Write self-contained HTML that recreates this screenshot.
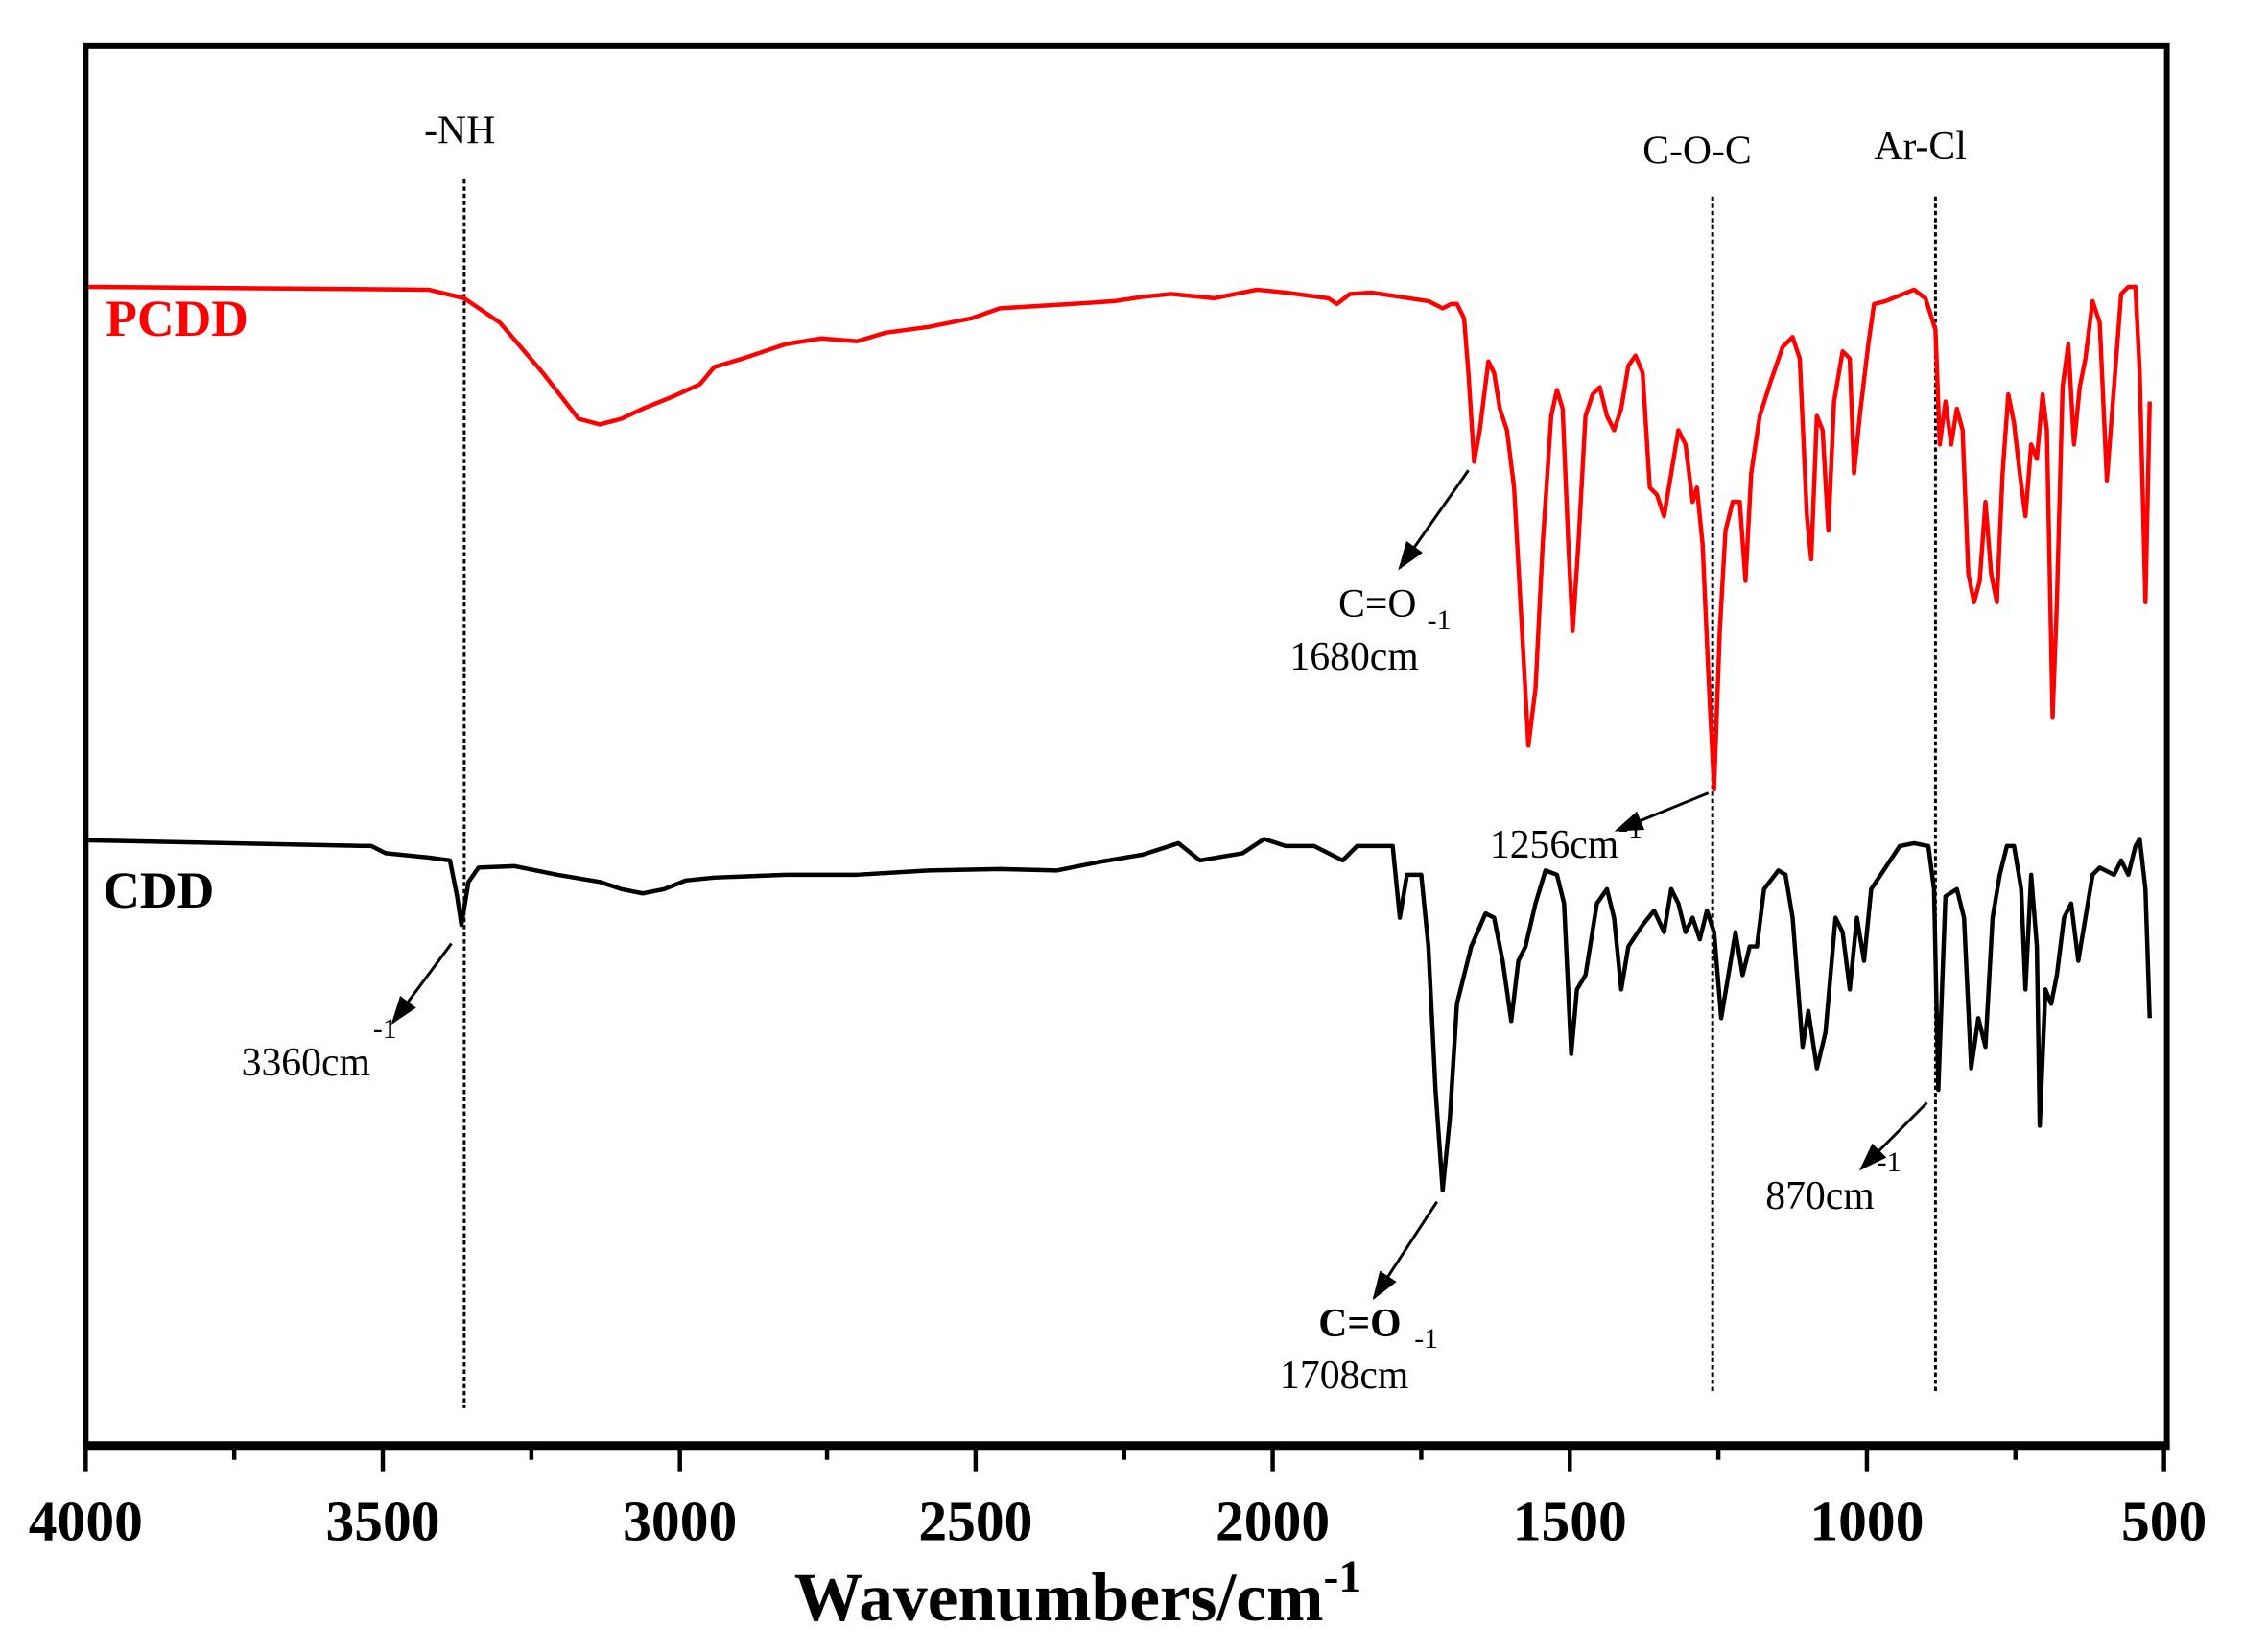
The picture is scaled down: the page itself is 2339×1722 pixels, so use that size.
<!DOCTYPE html>
<html><head><meta charset="utf-8"><style>
html,body{margin:0;padding:0;background:#fff;}
svg{display:block;}
text{font-family:"Liberation Serif",serif;}
</style></head><body>
<svg width="2339" height="1722" viewBox="0 0 1571 1152" preserveAspectRatio="none" xmlns="http://www.w3.org/2000/svg">
<defs><marker id="ah" markerWidth="20" markerHeight="14" refX="18" refY="7" orient="auto" markerUnits="userSpaceOnUse"><path d="M0,0 L20,7 L0,14 Z" fill="#000"/></marker></defs>
<rect x="60" y="32" width="1457" height="976" fill="none" stroke="#000" stroke-width="4"/>
<line x1="58" y1="1008" x2="1519" y2="1008" stroke="#000" stroke-width="6"/>
<g stroke="#000" stroke-width="3">
<line x1="60" y1="1008" x2="60" y2="1026"/><line x1="164" y1="1008" x2="164" y2="1018"/>
<line x1="268" y1="1008" x2="268" y2="1026"/><line x1="372" y1="1008" x2="372" y2="1018"/>
<line x1="476" y1="1008" x2="476" y2="1026"/><line x1="579" y1="1008" x2="579" y2="1018"/>
<line x1="683" y1="1008" x2="683" y2="1026"/><line x1="787" y1="1008" x2="787" y2="1018"/>
<line x1="891" y1="1008" x2="891" y2="1026"/><line x1="995" y1="1008" x2="995" y2="1018"/>
<line x1="1099" y1="1008" x2="1099" y2="1026"/><line x1="1203" y1="1008" x2="1203" y2="1018"/>
<line x1="1307" y1="1008" x2="1307" y2="1026"/><line x1="1411" y1="1008" x2="1411" y2="1018"/>
<line x1="1515" y1="1008" x2="1515" y2="1026"/>
</g>
<g font-size="40" font-weight="bold" text-anchor="middle">
<text x="60" y="1074">4000</text><text x="268" y="1074">3500</text><text x="476" y="1074">3000</text><text x="683" y="1074">2500</text><text x="891" y="1074">2000</text><text x="1099" y="1074">1500</text><text x="1307" y="1074">1000</text><text x="1515" y="1074">500</text>
</g>
<text x="556" y="1130" font-size="48" font-weight="bold">Wavenumbers/cm<tspan font-size="32" dy="-20">-1</tspan></text>
<g stroke="#000" stroke-width="2" stroke-dasharray="3,2">
<line x1="325" y1="125" x2="325" y2="982"/>
<line x1="1199" y1="137" x2="1199" y2="970"/>
<line x1="1355" y1="137" x2="1355" y2="972"/>
</g>
<g font-size="28">
<text x="297" y="100">-NH</text>
<text x="1150" y="114">C-O-C</text>
<text x="1312" y="111">Ar-Cl</text>
<text x="937" y="430">C=O</text>
<text x="903" y="467">1680cm<tspan font-size="20" dy="-28" dx="6">-1</tspan></text>
<text x="1043" y="598">1256cm<tspan font-size="20" dy="-14">-1</tspan></text>
<text x="169" y="750">3360cm<tspan font-size="20" dy="-26" dx="2">-1</tspan></text>
<text x="1236" y="843">870cm<tspan font-size="20" dy="-26" dx="2">-1</tspan></text>
<text x="923" y="932" font-weight="bold">C=O</text>
<text x="896" y="968">1708cm<tspan font-size="20" dy="-28" dx="4">-1</tspan></text>
</g>
<text x="74" y="234" font-size="36" font-weight="bold" fill="#ff0000">PCDD</text>
<text x="72" y="633" font-size="36" font-weight="bold">CDD</text>
<g stroke="#000" stroke-width="2" fill="none" marker-end="url(#ah)">
<line x1="1028" y1="328" x2="980" y2="396"/>
<line x1="1196" y1="553" x2="1132" y2="579"/>
<line x1="316" y1="658" x2="275" y2="713"/>
<line x1="1006" y1="838" x2="962" y2="905"/>
<line x1="1349" y1="769" x2="1303" y2="815"/>
</g>
<polyline fill="none" stroke="#ff0000" stroke-width="3" stroke-linejoin="round" points="62,200 300,202 325,208 350,225 380,260 405,292 420,296 435,292 450,285 470,277 490,268 500,256 520,250 550,240 575,236 600,238 620,232 650,228 680,222 700,215 750,212 780,210 800,207 820,205 850,208 880,202 900,204 930,208 936,212 945,205 960,204 1000,210 1010,215 1016,212 1020,212 1025,222 1028,260 1032,322 1036,300 1042,252 1046,260 1050,285 1055,300 1060,340 1065,430 1070,520 1075,480 1080,380 1086,290 1090,272 1094,285 1098,380 1101,440 1105,380 1110,290 1115,275 1120,270 1125,290 1130,300 1135,285 1140,255 1145,248 1150,260 1155,340 1160,345 1165,360 1170,330 1175,300 1180,310 1185,350 1188,340 1192,380 1196,470 1200,550 1204,440 1208,370 1213,350 1218,350 1222,405 1226,330 1232,290 1240,265 1248,242 1255,235 1260,250 1265,360 1268,390 1272,290 1276,300 1280,370 1284,280 1290,245 1295,250 1298,330 1302,290 1308,240 1312,212 1320,210 1330,206 1340,202 1348,208 1355,230 1358,310 1362,280 1366,310 1370,285 1374,300 1378,400 1382,420 1386,405 1390,350 1394,400 1398,420 1402,330 1406,275 1410,295 1414,330 1418,360 1422,310 1426,320 1430,275 1433,300 1437,500 1440,420 1444,270 1448,240 1452,310 1456,270 1460,250 1465,210 1470,225 1475,335 1480,270 1485,205 1490,200 1495,200 1498,260 1502,420 1505,280"/>
<polyline fill="none" stroke="#000" stroke-width="3" stroke-linejoin="round" points="62,586 260,590 270,595 300,598 315,600 320,625 323,645 328,615 335,605 360,604 390,610 420,615 435,620 450,623 465,620 480,614 500,612 550,610 600,610 650,607 700,606 740,607 770,601 800,596 825,588 840,600 870,595 885,585 900,590 920,590 940,600 950,590 965,590 975,590 980,640 985,610 995,610 1000,660 1005,760 1010,830 1015,780 1020,700 1030,660 1040,637 1046,640 1052,670 1058,712 1063,670 1068,660 1075,630 1082,607 1090,610 1095,630 1100,735 1104,690 1110,680 1118,630 1125,620 1130,640 1135,690 1140,660 1150,645 1158,635 1165,650 1170,620 1175,630 1180,650 1185,640 1190,655 1195,635 1200,650 1205,710 1210,680 1215,650 1220,680 1225,660 1230,660 1235,620 1245,607 1250,610 1255,640 1262,730 1266,705 1272,745 1278,720 1285,640 1290,650 1295,690 1300,640 1305,670 1310,620 1320,605 1330,590 1340,588 1350,590 1354,620 1357,760 1362,625 1370,620 1375,640 1380,745 1385,710 1390,730 1395,640 1400,610 1405,590 1410,590 1415,620 1418,690 1422,610 1426,660 1428,785 1432,690 1436,700 1440,680 1445,640 1450,630 1455,670 1460,640 1465,610 1470,605 1480,610 1485,600 1490,610 1495,590 1498,585 1502,620 1505,710"/>
</svg>
</body></html>
